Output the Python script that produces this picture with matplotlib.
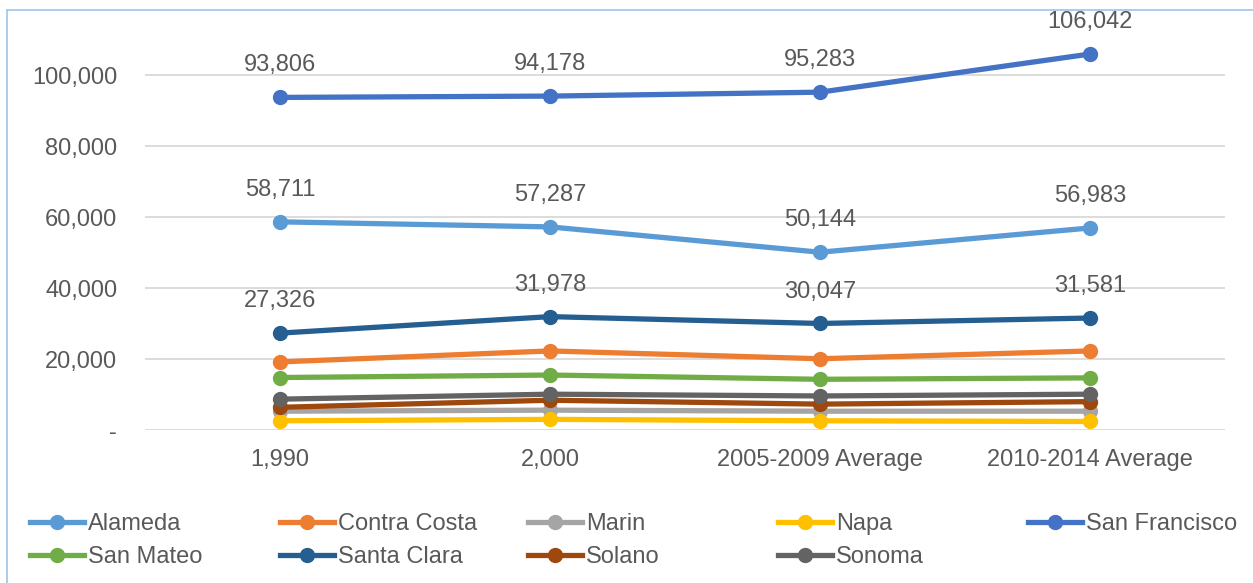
import matplotlib.pyplot as plt
from matplotlib.patches import Rectangle
from matplotlib.lines import Line2D

plt.rcParams['font.family'] = ['Liberation Sans', 'DejaVu Sans']

periods = ['1,990', '2,000', '2005-2009 Average', '2010-2014 Average']
counties = ['Alameda', 'Contra Costa', 'Marin', 'Napa', 'San Francisco',
            'San Mateo', 'Santa Clara', 'Solano', 'Sonoma']
alameda = [58711, 57287, 50144, 56983]
contra_costa = [19200, 22300, 20100, 22300]
marin = [5300, 5600, 5300, 5300]
napa = [2600, 3000, 2600, 2400]
san_francisco = [93806, 94178, 95283, 106042]
san_mateo = [14800, 15500, 14300, 14700]
santa_clara = [27326, 31978, 30047, 31581]
solano = [6400, 8400, 7300, 8000]
sonoma = [8700, 10100, 9600, 10100]
labelled = ['Alameda', 'San Francisco', 'Santa Clara']

series = [alameda, contra_costa, marin, napa, san_francisco,
          san_mateo, santa_clara, solano, sonoma]
colors = ['#5B9BD5', '#ED7D31', '#A5A5A5', '#FFC000', '#4472C4',
          '#70AD47', '#255E91', '#9E480E', '#636363']

txt = '#595959'
fs = 17

fig = plt.figure(figsize=(12.53, 5.83), dpi=100)
ax = fig.add_axes([145 / 1253, 1 - 430 / 583, 1080 / 1253, 390 / 583])

x = range(len(periods))
for name, vals, c in zip(counties, series, colors):
    ax.plot(x, vals, color=c, lw=3.8, marker='o', ms=10, solid_capstyle='round', zorder=3)
    if name in labelled:
        for xi, v in zip(x, vals):
            ax.annotate(f'{v:,}', (xi, v), xytext=(0, 23), textcoords='offset points',
                        ha='center', va='center', fontsize=fs, color=txt)

ax.set_xlim(-0.5, 3.5)
ax.set_ylim(0, 110000)
ax.set_yticks([0, 20000, 40000, 60000, 80000, 100000])
ax.set_yticklabels(['-', '20,000', '40,000', '60,000', '80,000', '100,000'])
ax.set_xticks(list(x))
ax.set_xticklabels(periods)
ax.tick_params(length=0, labelsize=fs, colors=txt, pad=14)
ax.tick_params(axis='y', pad=20)
ax.grid(axis='y', color='#D9D9D9', lw=1.3)
ax.set_axisbelow(True)
for s in ax.spines.values():
    s.set_visible(False)

# legend, one column at a time
col_x = [30, 280, 528, 778, 1028]
for i, cx in enumerate(col_x):
    idx = [j for j in (i, i + 5) if j < len(counties)]
    handles = [Line2D([], [], color=colors[j], lw=3.8, marker='o', ms=10) for j in idx]
    fig.legend(handles, [counties[j] for j in idx], loc='upper left',
               bbox_to_anchor=((cx - 7) / 1253, 1 - 506 / 583), frameon=False,
               fontsize=fs, labelcolor=txt, handlelength=2.3, handletextpad=0.15,
               labelspacing=0.48, borderaxespad=0, borderpad=0.3)

fig.patches.append(Rectangle((7 / 1253, -0.1), 1.2, 1 - 10 / 583 + 0.1,
                             transform=fig.transFigure, fill=False,
                             edgecolor='#9DC3E6', lw=1.2))

fig.savefig('out.png', dpi=100)
